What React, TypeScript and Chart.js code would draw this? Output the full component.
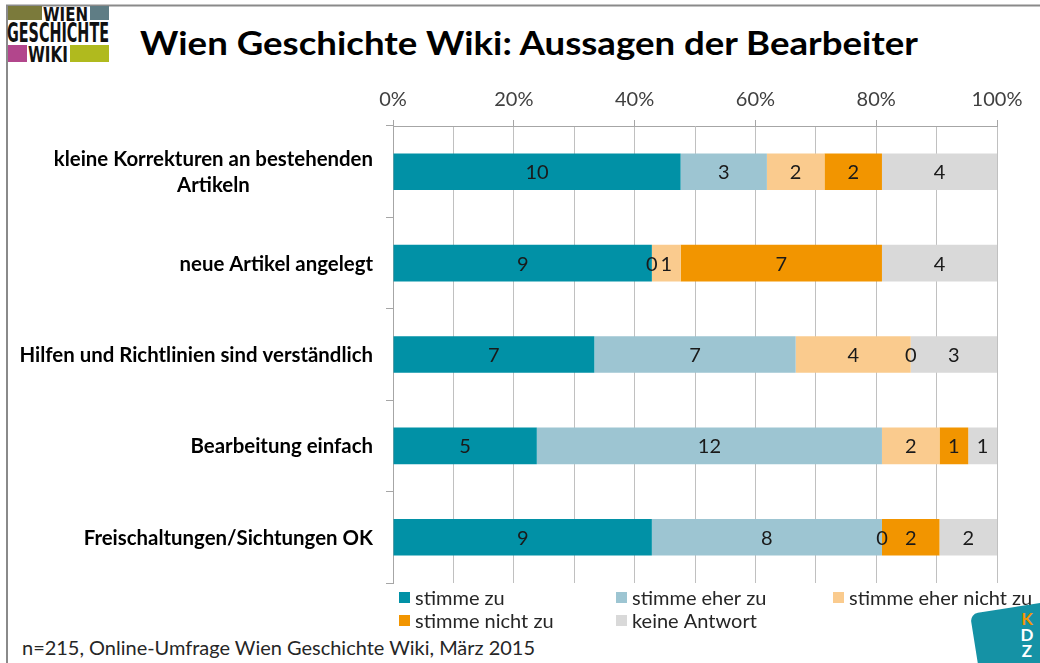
import React, { useEffect, useRef } from "react";
import { Chart, registerables } from "chart.js";

Chart.register(...registerables);

// ---------- data ----------
const categories: (string | string[])[] = [
  ["kleine Korrekturen an bestehenden", "Artikeln"],
  "neue Artikel angelegt",
  "Hilfen und Richtlinien sind verständlich",
  "Bearbeitung einfach",
  "Freischaltungen/Sichtungen OK",
];
const seriesNames = [
  "stimme zu",
  "stimme eher zu",
  "stimme eher nicht zu",
  "stimme nicht zu",
  "keine Antwort",
];
const stimmeZu = [10, 9, 7, 5, 9];
const stimmeEherZu = [3, 0, 7, 12, 8];
const stimmeEherNichtZu = [2, 1, 4, 2, 0];
const stimmeNichtZu = [2, 7, 0, 1, 2];
const keineAntwort = [4, 4, 3, 1, 2];
const seriesColors = ["#0191A6", "#9DC5D2", "#FACB8E", "#F29500", "#D9D9D9"];
const axisMin = 0;
const axisMax = 100;
const gridStep = 10;
const labelStep = 20;

const titleText = "Wien Geschichte Wiki: Aussagen der Bearbeiter";
const footnoteText = "n=215, Online-Umfrage Wien Geschichte Wiki, März 2015";

const FONT = "Lato";

// ---------- plugins ----------
const categoryLabelsPlugin = {
  id: "categoryLabels",
  afterDraw(chart: any) {
    const { ctx, chartArea, scales } = chart;
    const yScale = scales.y;
    const xRight = chartArea.left - 20;
    const lineH = 26;
    ctx.save();
    ctx.font = `bold 20.4px ${FONT}`;
    ctx.fillStyle = "#000000";
    ctx.textBaseline = "middle";
    ctx.textAlign = "center";
    (chart.data.labels as any[]).forEach((lab, i) => {
      const lines: string[] = Array.isArray(lab) ? lab : [lab];
      const yc = yScale.getPixelForValue(i);
      const w0 = ctx.measureText(lines[0]).width;
      const cx = xRight - w0 / 2;
      lines.forEach((ln, k) => {
        const yy = yc + (k - (lines.length - 1) / 2) * lineH;
        ctx.fillText(ln, cx, yy + 1);
      });
    });
    ctx.restore();
  },
};

const dataLabelsPlugin = {
  id: "dataLabels",
  afterDatasetsDraw(chart: any) {
    const { ctx } = chart;
    ctx.save();
    ctx.font = `20px ${FONT}`;
    ctx.fillStyle = "#1a1a1a";
    ctx.textAlign = "center";
    ctx.textBaseline = "middle";
    chart.data.datasets.forEach((ds: any, di: number) => {
      const meta = chart.getDatasetMeta(di);
      meta.data.forEach((el: any, i: number) => {
        const p = el.getProps(["x", "base", "y"], true);
        ctx.fillText(String(ds.counts[i]), (p.x + p.base) / 2, p.y + 1);
      });
    });
    ctx.restore();
  },
};

const legendPlugin = {
  id: "gridLegend",
  afterDraw(chart: any) {
    const { ctx, chartArea } = chart;
    const colW = 217;
    const perRow = 3;
    ctx.save();
    ctx.font = `20px ${FONT}`;
    ctx.textAlign = "left";
    ctx.textBaseline = "middle";
    chart.data.datasets.forEach((ds: any, i: number) => {
      const r = Math.floor(i / perRow);
      const c = i % perRow;
      const x = chartArea.left + 6 + c * colW;
      const yc = chartArea.bottom + 14.5 + r * 23;
      ctx.fillStyle = ds.backgroundColor;
      ctx.fillRect(x, yc - 5.5, 11, 11);
      ctx.fillStyle = "#262626";
      ctx.fillText(ds.label, x + 16, yc + 1);
    });
    ctx.restore();
  },
};

// ---------- component ----------
export default function App() {
  const canvasRef = useRef<HTMLCanvasElement | null>(null);

  useEffect(() => {
    const series = [stimmeZu, stimmeEherZu, stimmeEherNichtZu, stimmeNichtZu, keineAntwort];
    const totals = categories.map((_, i) => series.reduce((s, arr) => s + arr[i], 0));
    const datasets = series.map((arr, si) => ({
      label: seriesNames[si],
      data: arr.map((v, i) => (v / totals[i]) * 100),
      counts: arr,
      backgroundColor: seriesColors[si],
      borderWidth: 0,
      barPercentage: 0.4,
      categoryPercentage: 1,
    }));

    const chart = new Chart(canvasRef.current as HTMLCanvasElement, {
      type: "bar",
      data: { labels: categories as any, datasets: datasets as any },
      options: {
        indexAxis: "y",
        responsive: false,
        animation: false,
        layout: { padding: { left: 0, right: 43, top: 0, bottom: 80 } },
        plugins: {
          legend: { display: false },
          tooltip: { enabled: false },
          title: { display: false },
        },
        scales: {
          x: {
            type: "linear",
            position: "top",
            stacked: true,
            min: axisMin,
            max: axisMax,
            ticks: {
              stepSize: gridStep,
              autoSkip: false,
              maxRotation: 0,
              padding: 8,
              color: "#404040",
              font: { size: 20, family: FONT },
              callback: (v: any) => (Number(v) % labelStep === 0 ? `${v}%` : ""),
            },
            grid: {
              color: "#c0c0c0",
              tickLength: 6,
              tickColor: (c: any) =>
                c.tick && c.tick.value % labelStep === 0 ? "#a6a6a6" : "rgba(0,0,0,0)",
            },
            border: { display: true, color: "#a6a6a6" },
            afterFit: (s: any) => {
              s.height = 126;
            },
          },
          y: {
            type: "category",
            stacked: true,
            ticks: { display: false },
            grid: {
              drawOnChartArea: false,
              tickLength: 7,
              color: "#a6a6a6",
              offset: true,
            },
            border: { display: true, color: "#a6a6a6" },
            afterFit: (s: any) => {
              s.width = 393;
            },
          },
        },
      } as any,
      plugins: [categoryLabelsPlugin, dataLabelsPlugin, legendPlugin],
    });
    return () => chart.destroy();
  }, []);

  return (
    <div
      style={{
        position: "fixed",
        left: 0,
        top: 0,
        width: 1040,
        height: 663,
        background: "#ffffff",
        overflow: "hidden",
      }}
    >
      <svg
        width={1040}
        height={663}
        style={{ position: "absolute", left: 0, top: 0 }}
      >
        {/* frame */}
        <line x1={6} y1={5.5} x2={1040} y2={5.5} stroke="#8a8a8a" strokeWidth={2} />
        <line x1={7} y1={5} x2={7} y2={663} stroke="#8a8a8a" strokeWidth={2} />
        {/* Wien Geschichte Wiki logo */}
        <rect x={8} y={6} width={34} height={14} fill="#7b7a3b" />
        <rect x={90} y={6} width={19} height={14} fill="#5f7d85" />
        <rect x={8} y={45} width={19} height={17} fill="#b2468c" />
        <rect x={70} y={45} width={39} height={17} fill="#b0ba1e" />
        <text
          x={43}
          y={20.5}
          fontFamily="DejaVu Sans Condensed"
          fontWeight="bold"
          fontSize={20}
          textLength={45}
          lengthAdjust="spacingAndGlyphs"
          fill="#111"
        >
          WIEN
        </text>
        <text
          x={7}
          y={42}
          fontFamily="DejaVu Sans Condensed"
          fontWeight="bold"
          fontSize={26}
          textLength={102}
          lengthAdjust="spacingAndGlyphs"
          fill="#111"
        >
          GESCHICHTE
        </text>
        <text
          x={28}
          y={61.5}
          fontFamily="DejaVu Sans Condensed"
          fontWeight="bold"
          fontSize={21}
          textLength={40}
          lengthAdjust="spacingAndGlyphs"
          fill="#111"
        >
          WIKI
        </text>
        {/* title */}
        <text
          x={140}
          y={55}
          fontFamily={FONT}
          fontWeight="bold"
          fontSize={32}
          textLength={778}
          lengthAdjust="spacingAndGlyphs"
          fill="#000"
        >
          {titleText}
        </text>
        {/* footnote */}
        <text
          x={22}
          y={655}
          fontFamily={FONT}
          fontSize={19.5}
          textLength={513}
          lengthAdjust="spacingAndGlyphs"
          fill="#262626"
        >
          {footnoteText}
        </text>
        {/* KDZ logo */}
        <g transform="rotate(-9 970 614)">
          <rect x={970} y={614} width={95} height={85} rx={8} fill="#1592a5" />
        </g>
        <text x={1027} y={625} fontFamily={FONT} fontWeight="bold" fontSize={17} textAnchor="middle" fill="#F29500">
          K
        </text>
        <text x={1027} y={641} fontFamily={FONT} fontWeight="bold" fontSize={17} textAnchor="middle" fill="#ffffff">
          D
        </text>
        <text x={1027} y={657} fontFamily={FONT} fontWeight="bold" fontSize={17} textAnchor="middle" fill="#ffffff">
          Z
        </text>
      </svg>
      <canvas
        ref={canvasRef}
        width={1040}
        height={663}
        style={{ position: "absolute", left: 0, top: 0, width: 1040, height: 663 }}
      />
    </div>
  );
}
